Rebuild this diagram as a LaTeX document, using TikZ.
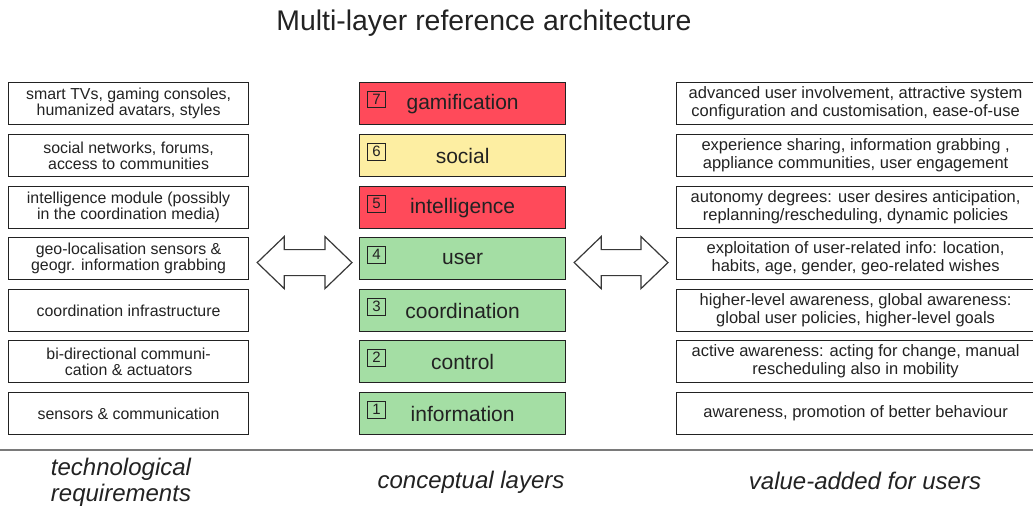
\documentclass[tikz,border=0pt]{standalone}
\usepackage{fontspec}
\setmainfont{Liberation Sans}
\usetikzlibrary{calc}

\definecolor{ink}{HTML}{222222}
\definecolor{layerred}{RGB}{255,74,90}
\definecolor{layeryellow}{RGB}{253,238,162}
\definecolor{layergreen}{RGB}{164,222,164}
\definecolor{rulegray}{HTML}{7A7A7A}

\tikzset{
  sidebox/.style={draw=ink, line width=1.2pt, text=ink, align=center,
    minimum height=42pt, inner sep=0pt, anchor=north west},
  leftbox/.style={sidebox, minimum width=240pt,
    font=\fontsize{15.9}{16.5}\selectfont},
  rightbox/.style={sidebox, minimum width=358pt,
    font=\fontsize{16.5}{18}\selectfont},
  layerbox/.style={draw=ink, line width=1.2pt, text=ink,
    font=\fontsize{21}{24}\selectfont, minimum width=206pt,
    minimum height=42pt, inner sep=0pt, anchor=north west},
  numbox/.style={draw=ink, line width=0.9pt, text=ink,
    font=\fontsize{15}{15}\selectfont, minimum width=18pt,
    minimum height=16.5pt, inner sep=0pt, anchor=north west},
  arrowline/.style={draw=ink!90, line width=1.2pt, fill=white, line join=miter},
  caption/.style={text=ink, align=center,
    font=\fontsize{24}{26}\selectfont\itshape},
}

% hollow double-headed arrow between two tip points (same height)
\newcommand\dblarrow[2]{%
  \draw[arrowline] let \p1=(#1), \p2=(#2) in
    (\x1,\y1) -- (\x1+27pt,\y1+26pt) -- (\x1+27pt,\y1+13pt)
    -- (\x2-27pt,\y1+13pt) -- (\x2-27pt,\y1+26pt) -- (\x2,\y1)
    -- (\x2-27pt,\y1-26pt) -- (\x2-27pt,\y1-13pt)
    -- (\x1+27pt,\y1-13pt) -- (\x1+27pt,\y1-26pt) -- cycle;}

\begin{document}
\begin{tikzpicture}[x=1pt,y=-1pt]
\useasboundingbox (0,0) rectangle (1033,508);
\clip (0,0) rectangle (1033,508);

% title
\node[text=ink, font=\fontsize{28.4}{30}\selectfont] (title) at (484,23)
  {Multi-layer reference architecture};

% technological requirements
\node[leftbox] (l7) at (8,82)  {smart TVs, gaming consoles,\\humanized avatars, styles};
\node[leftbox] (l6) at (8,134) {social networks, forums,\\access to communities};
\node[leftbox] (l5) at (8,186) {intelligence module (possibly\\in the coordination media)};
\node[leftbox] (l4) at (8,237) {geo-localisation sensors \&\\geogr. information grabbing};
\node[leftbox] (l3) at (8,289) {coordination infrastructure};
\node[leftbox] (l2) at (8,340) {bi-directional communi-\\cation \& actuators};
\node[leftbox] (l1) at (8,392) {sensors \& communication};

% conceptual layers
\node[layerbox, fill=layerred]    (m7) at (359,82)  {gamification};
\node[layerbox, fill=layeryellow] (m6) at (359,134) {social};
\node[layerbox, fill=layerred]    (m5) at (359,186) {intelligence};
\node[layerbox, fill=layergreen]  (m4) at (359,237) {user};
\node[layerbox, fill=layergreen]  (m3) at (359,289) {coordination};
\node[layerbox, fill=layergreen]  (m2) at (359,340) {control};
\node[layerbox, fill=layergreen]  (m1) at (359,392) {information};
\foreach \i in {1,...,7}
  \node[numbox] (n\i) at ($(m\i.north west)+(8,9)$) {\i};

% value-added for users
\node[rightbox] (r7) at (676,82)  {advanced user involvement, attractive system\\configuration and customisation, ease-of-use};
\node[rightbox] (r6) at (676,134) {experience sharing, information grabbing ,\\appliance communities, user engagement};
\node[rightbox] (r5) at (676,186) {autonomy degrees: user desires anticipation,\\replanning/rescheduling, dynamic policies};
\node[rightbox] (r4) at (676,237) {exploitation of user-related info: location,\\habits, age, gender, geo-related wishes};
\node[rightbox] (r3) at (676,289) {higher-level awareness, global awareness:\\global user policies, higher-level goals};
\node[rightbox] (r2) at (676,340) {active awareness: acting for change, manual\\rescheduling also in mobility};
\node[rightbox] (r1) at (676,392) {awareness, promotion of better behaviour};

% double arrows linking the columns
\coordinate (aL1) at ($(l4.east)+(8,4)$);
\coordinate (aL2) at ($(m4.west)+(-7,4)$);
\coordinate (aR1) at ($(m4.east)+(8,4)$);
\coordinate (aR2) at ($(r4.west)+(-8,4)$);
\dblarrow{aL1}{aL2}
\dblarrow{aR1}{aR2}

% separator and column captions
\coordinate (sepL) at (0,450);
\coordinate (sepR) at (1033,450);
\draw[rulegray, line width=1.4pt] (sepL) -- (sepR);
\node[caption] (capL) at (121,482) {technological\\requirements};
\node[caption] (capM) at (471,482) {conceptual layers};
\node[caption] (capR) at (865,481) {value-added for users};
\end{tikzpicture}
\end{document}
